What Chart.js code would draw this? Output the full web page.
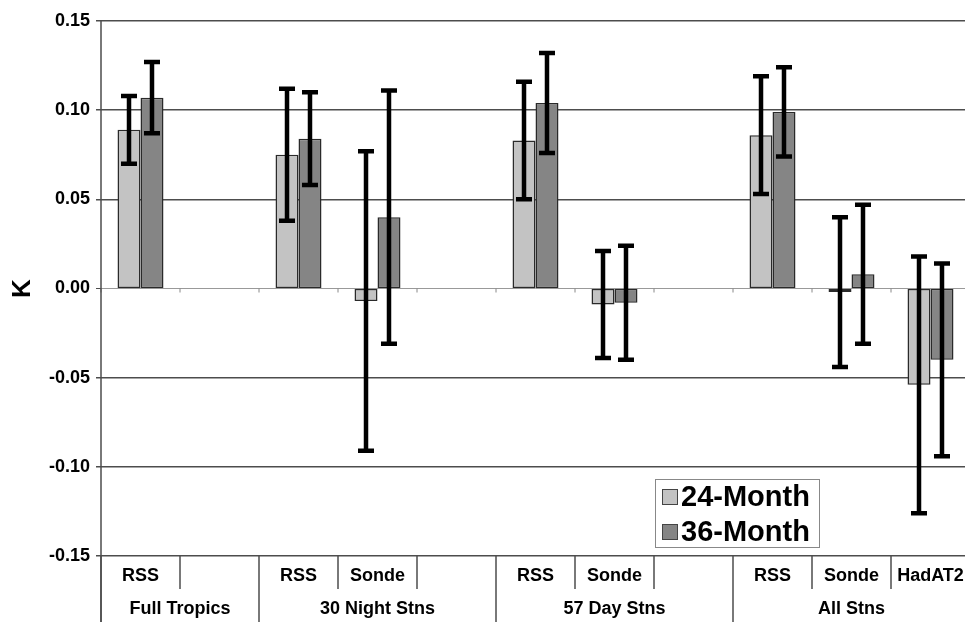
<!DOCTYPE html>
<html>
<head>
<meta charset="utf-8">
<script src="https://cdn.jsdelivr.net/npm/chart.js@4.4.1/dist/chart.umd.min.js"></script>
<style>
  html, body { margin: 0; padding: 0; background: #fff; overflow: hidden; }
  #chart { display: block; }
</style>
</head>
<body>
<canvas id="chart" width="975" height="622"></canvas>
<script>
// categories (bottom row) and groups (second row)
var labels = ['RSS', '', 'RSS', 'Sonde', '', 'RSS', 'Sonde', '', 'RSS', 'Sonde', 'HadAT2'];
var groups = ['Full Tropics', '30 Night Stns', '57 Day Stns', 'All Stns'];
var groupSpans = [2, 3, 3, 3];

// trends (K) and their error half-widths
var month24 = [0.089, null, 0.075, -0.007, null, 0.083, -0.009, null, 0.086, -0.002, -0.054];
var month36 = [0.107, null, 0.084, 0.040, null, 0.104, -0.008, null, 0.099, 0.008, -0.040];
var err24 = [0.019, null, 0.037, 0.084, null, 0.033, 0.030, null, 0.033, 0.042, 0.072];
var err36 = [0.020, null, 0.026, 0.071, null, 0.028, 0.032, null, 0.025, 0.039, 0.054];

var yTicks = [-0.15, -0.10, -0.05, 0.00, 0.05, 0.10, 0.15];

var FONT = "'Liberation Sans', Arial, Helvetica, sans-serif";
var LINE = '#4d4d4d';

Chart.defaults.font.family = FONT;
Chart.defaults.color = '#000';

// error bars over the bars
var errorBars = {
  id: 'errorBars',
  afterDatasetsDraw: function (chart) {
    var ctx = chart.ctx;
    var y = chart.scales.y;
    var errs = [err24, err36];
    ctx.save();
    ctx.strokeStyle = '#000';
    ctx.lineWidth = 4.5;
    chart.data.datasets.forEach(function (ds, di) {
      var meta = chart.getDatasetMeta(di);
      meta.data.forEach(function (bar, i) {
        var v = ds.data[i];
        var e = errs[di][i];
        if (v === null || e === null) return;
        var top = y.getPixelForValue(v + e);
        var bot = y.getPixelForValue(v - e);
        ctx.beginPath();
        ctx.moveTo(bar.x, top);
        ctx.lineTo(bar.x, bot);
        ctx.moveTo(bar.x - 8, top);
        ctx.lineTo(bar.x + 8, top);
        ctx.moveTo(bar.x - 8, bot);
        ctx.lineTo(bar.x + 8, bot);
        ctx.stroke();
      });
    });
    ctx.restore();
  }
};

// label table under the plot, zero line ticks, legend box
var extras = {
  id: 'extras',
  afterDraw: function (chart) {
    var ctx = chart.ctx;
    var x = chart.scales.x;
    var y = chart.scales.y;
    var area = chart.chartArea;
    var h = chart.height;
    var y0 = y.getPixelForValue(0);

    ctx.save();
    ctx.strokeStyle = LINE;
    ctx.lineWidth = 1.5;

    // boundaries
    var groupEdges = [0];
    var acc = 0;
    groupSpans.forEach(function (s) { acc += s; groupEdges.push(acc); });
    for (var i = 0; i <= labels.length; i++) {
      var bx = x.getPixelForValue(i - 0.5);
      var isGroup = groupEdges.indexOf(i) >= 0;
      ctx.beginPath();
      ctx.moveTo(bx, area.bottom);
      ctx.lineTo(bx, isGroup ? h : area.bottom + 33);
      ctx.stroke();
      // small ticks on the zero line
      ctx.beginPath();
      ctx.lineWidth = 1;
      ctx.strokeStyle = '#888';
      ctx.moveTo(bx, y0);
      ctx.lineTo(bx, y0 + 4);
      ctx.stroke();
      ctx.lineWidth = 1.5;
      ctx.strokeStyle = LINE;
    }
    // left axis line down through the table
    ctx.beginPath();
    ctx.moveTo(area.left, area.top);
    ctx.lineTo(area.left, h);
    ctx.stroke();

    // group names
    ctx.fillStyle = '#000';
    ctx.font = 'bold 18px ' + FONT;
    ctx.textAlign = 'center';
    ctx.textBaseline = 'middle';
    groups.forEach(function (g, gi) {
      var a = x.getPixelForValue(groupEdges[gi] - 0.5);
      var b = x.getPixelForValue(groupEdges[gi + 1] - 0.5);
      ctx.fillText(g, (a + b) / 2, 609);
    });

    // legend
    var lx = area.left + 554, ly = area.bottom - 77;
    ctx.fillStyle = '#fff';
    ctx.fillRect(lx, ly, 164, 68);
    ctx.strokeStyle = '#888';
    ctx.lineWidth = 1;
    ctx.strokeRect(lx + 0.5, ly + 0.5, 164, 68);
    var items = chart.data.datasets;
    ctx.font = 'bold 29px ' + FONT;
    ctx.textAlign = 'left';
    items.forEach(function (ds, k) {
      var cy = ly + 18 + k * 35;
      ctx.fillStyle = ds.backgroundColor;
      ctx.fillRect(lx + 7, cy - 8, 15, 15);
      ctx.strokeStyle = '#444';
      ctx.strokeRect(lx + 7.5, cy - 7.5, 15, 15);
      ctx.fillStyle = '#000';
      ctx.fillText(ds.label, lx + 26, cy + 1);
    });
    ctx.restore();
  }
};

new Chart(document.getElementById('chart'), {
  type: 'bar',
  data: {
    labels: labels,
    datasets: [
      {
        label: '24-Month',
        data: month24,
        backgroundColor: '#c3c3c3',
        borderColor: '#2a2a2a',
        borderWidth: 1.5,
        borderSkipped: false
      },
      {
        label: '36-Month',
        data: month36,
        backgroundColor: '#858585',
        borderColor: '#2a2a2a',
        borderWidth: 1.5,
        borderSkipped: false
      }
    ]
  },
  options: {
    responsive: false,
    animation: false,
    devicePixelRatio: 1,
    layout: { padding: { top: 21, right: 5, bottom: 0, left: 0 } },
    categoryPercentage: 0.582,
    barPercentage: 1,
    plugins: {
      legend: { display: false },
      tooltip: { enabled: false }
    },
    scales: {
      x: {
        grid: { display: false, drawTicks: false },
        border: { display: false },
        ticks: {
          autoSkip: false,
          maxRotation: 0,
          padding: 9,
          color: '#000',
          font: { size: 18, weight: 'bold' }
        },
        afterFit: function (scale) { scale.height = 66; }
      },
      y: {
        min: -0.15,
        max: 0.15,
        afterBuildTicks: function (scale) {
          scale.ticks = yTicks.map(function (v) { return { value: v }; });
        },
        grid: {
          color: function (c) { return c.tick && c.tick.value === 0 ? '#999' : LINE; },
          lineWidth: function (c) { return c.tick && c.tick.value === 0 ? 1 : 1.5; },
          tickLength: 5,
          tickColor: LINE
        },
        border: { display: false },
        ticks: {
          padding: 6,
          color: '#000',
          font: { size: 18, weight: 'bold' },
          callback: function (v) { return Number(v).toFixed(2); }
        },
        title: {
          display: true,
          text: 'K',
          color: '#000',
          padding: { top: 7, bottom: 0 },
          font: { size: 26, weight: 'bold' }
        },
        afterFit: function (scale) { scale.width = 101; }
      }
    }
  },
  plugins: [errorBars, extras]
});
</script>
</body>
</html>
